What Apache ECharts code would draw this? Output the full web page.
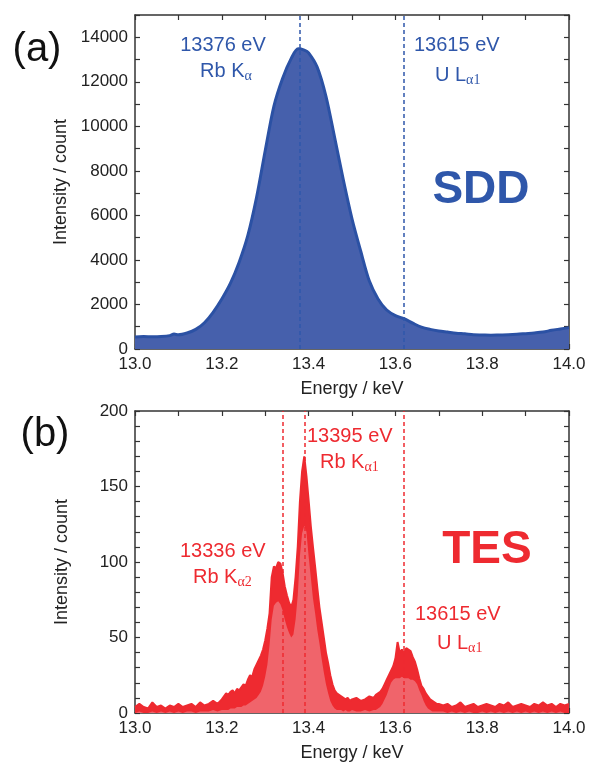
<!DOCTYPE html>
<html><head><meta charset="utf-8">
<script src="https://cdn.jsdelivr.net/npm/echarts@6/dist/echarts.min.js"></script>
<style>html,body{margin:0;padding:0;background:#fff}#c{width:592px;height:763px}</style>
</head><body><div id="c"></div>
<script>
// ---------- DATA ----------
const sddEnergy = [13.00,13.02,13.04,13.06,13.08,13.09,13.10,13.12,13.14,13.16,13.18,13.20,13.22,13.24,13.26,13.28,13.30,13.32,13.34,13.36,13.376,13.39,13.40,13.42,13.44,13.46,13.48,13.50,13.52,13.54,13.56,13.58,13.60,13.62,13.64,13.66,13.68,13.70,13.72,13.74,13.76,13.78,13.80,13.82,13.84,13.86,13.88,13.90,13.92,13.94,13.96,13.98,14.00];
const sddCounts = [540,560,550,560,600,670,640,720,880,1180,1650,2250,2960,3900,5100,6800,8900,10900,12150,13050,13480,13420,13300,12650,11350,9500,7600,5850,4400,3050,2250,1750,1500,1360,1160,980,880,810,760,710,680,640,630,620,630,640,660,690,720,760,840,900,960];

const tesEnergy = [
13.00,13.01,13.02,13.03,13.04,13.05,13.06,13.07,13.08,13.09,13.10,13.11,13.12,13.13,13.14,13.15,13.16,13.17,13.18,13.19,13.20,
13.205,13.210,13.215,13.220,13.225,13.230,13.235,13.240,13.245,13.250,13.255,13.260,13.265,13.270,13.275,13.280,13.285,13.290,13.295,13.300,
13.305,13.310,13.315,13.320,13.325,13.330,13.335,13.340,13.345,13.350,13.355,13.360,13.365,13.370,13.375,13.380,13.385,13.390,13.395,13.400,
13.405,13.410,13.415,13.420,13.425,13.430,13.435,13.440,13.445,13.450,13.455,13.460,13.465,13.470,13.475,13.480,13.485,13.490,13.495,13.500,
13.51,13.52,13.53,13.54,13.55,
13.555,13.560,13.565,13.570,13.575,13.580,13.585,13.590,13.595,13.600,13.605,13.610,13.615,13.620,13.625,13.630,13.635,13.640,13.645,13.650,
13.655,13.660,13.665,13.670,13.675,13.680,13.685,13.690,13.695,13.700,
13.71,13.72,13.73,13.74,13.75,13.76,13.77,13.78,13.79,13.80,13.81,13.82,13.83,13.84,13.85,13.86,13.87,13.88,13.89,13.90,13.91,13.92,13.93,13.94,13.95,13.96,13.97,13.98,13.99,14.00];
const tesUpper = [
4,6,4,3,7,4,5,3,5,4,6,4,5,6,4,7,5,6,8,6,9,
11,13,12,14,15,13,16,15,17,19,18,22,25,24,29,32,35,38,42,48,
56,66,90,97,96,100,99,93,84,78,73,70,75,90,110,140,160,170,157,141,
124,110,97,83,70,60,50,40,33,25,19,15,13,12,11,10,9,10,8,9,
10,8,9,11,10,
12,13,14,16,19,22,25,28,31,36,47,40,42,40,43,42,41,37,34,29,
23,18,16,13,11,9,8,7,6,6,
5,6,4,5,7,4,5,6,4,5,6,5,4,6,5,7,4,5,6,5,4,6,5,7,5,6,4,6,5,6];
const tesLower = [
0,1,0,0,1,0,1,0,1,0,1,0,1,1,0,1,1,1,2,1,2,
2,2,2,3,3,3,4,4,4,5,5,6,7,8,9,10,12,14,18,24,
32,45,62,71,73,74,72,68,62,57,53,50,52,62,78,104,119,124,120,104,
90,76,66,55,46,36,27,19,13,8,5,3,2,2,2,1,2,1,1,2,
1,1,2,1,2,
2,3,4,6,9,12,16,20,22,23,23,23,24,23,23,23,22,22,21,19,
15,12,8,5,3,2,1,1,1,1,
1,0,1,0,1,0,1,0,0,1,0,1,0,1,0,1,0,1,0,1,0,1,0,1,0,1,0,1,0,1];

const sddLines = [13.376, 13.615];
const tesLines = [13.336, 13.395, 13.615];
const xTickLabels = ['13.0','13.2','13.4','13.6','13.8','14.0'];
const sddTickLabels = ['0','2000','4000','6000','8000','10000','12000','14000'];
const tesTickLabels = ['0','50','100','150','200'];

// ---------- STYLE ----------
const BLUE = '#2F57AA', BLUE_FILL = '#4660AC', BLUE_LINE = '#2B51A4';
const RED = '#EE2A30', RED_LIGHT = '#F0646B';
const AX = '#333';
const FONT = '"Liberation Sans", Arial, Helvetica, sans-serif';

const chart = echarts.init(document.getElementById('c'));

function xAx(grid, primary) {
  return {
    type: 'value', gridIndex: grid, min: 13, max: 14, interval: 0.1,
    position: primary ? 'bottom' : 'top',
    name: primary ? 'Energy / keV' : '', nameLocation: 'middle', nameGap: 31,
    nameTextStyle: {fontSize: 18, color: '#222', fontFamily: FONT},
    axisLine: {onZero: false, lineStyle: {color: AX, width: 1.5}},
    axisTick: {inside: true, length: 5, lineStyle: {color: AX, width: 1.2}},
    splitLine: {show: false},
    axisLabel: {show: primary, fontSize: 17, color: '#222', fontFamily: FONT, margin: 7,
      formatter: v => { const k = Math.round((v - 13) * 10); return k % 2 === 0 ? xTickLabels[k / 2] : ''; }},
  };
}
function yAx(grid, primary, max, step, labStep, labels) {
  return {
    type: 'value', gridIndex: grid, min: 0, max: max, interval: step,
    position: primary ? 'left' : 'right',
    name: primary ? 'Intensity / count' : '', nameLocation: 'middle', nameGap: 64, nameRotate: 90,
    nameTextStyle: {fontSize: 18, color: '#222', fontFamily: FONT},
    axisLine: {show: true, onZero: false, lineStyle: {color: AX, width: 1.5}},
    axisTick: {show: true, inside: true, length: 5, lineStyle: {color: AX, width: 1.2}},
    splitLine: {show: false},
    axisLabel: {show: primary, fontSize: 17, color: '#222', fontFamily: FONT, margin: 7,
      formatter: v => { const k = Math.round(v / step); const r = step * k; return (r % labStep === 0 && r / labStep < labels.length) ? labels[r / labStep] : ''; }},
  };
}

const sddData = sddEnergy.map((e, i) => [e, sddCounts[i]]);
const tesUp = tesEnergy.map((e, i) => [e, tesUpper[i]]);
const tesLo = tesEnergy.map((e, i) => [e, tesLower[i]]);

function ml(lines, color) {
  return {silent: true, symbol: ['none', 'none'], label: {show: false}, animation: false,
    lineStyle: {type: [4, 3], color: color, width: 1.5},
    emphasis: {disabled: true},
    data: lines.map(v => ({xAxis: v}))};
}

function txt(text, x, y, size, color, align, extra) {
  return {type: 'text', x: x, y: y, silent: true, z: 100,
    style: Object.assign({text: text, fontSize: size, fontFamily: FONT, fill: color,
      align: align || 'left', verticalAlign: 'middle'}, extra || {})};
}
const subRich = (color) => ({
  n: {fontSize: 20, fontFamily: FONT, fill: color, color: color, lineHeight: 24},
  s: {fontSize: 14, fontFamily: '"Liberation Serif", "DejaVu Serif", serif', fill: color, color: color, lineHeight: 14, verticalAlign: 'bottom'}
});

chart.setOption({
  animation: false,
  grid: [
    {left: 135, top: 15, width: 434, height: 334},
    {left: 135, top: 411, width: 434, height: 302}
  ],
  xAxis: [xAx(0, true), xAx(0, false), xAx(1, true), xAx(1, false)],
  yAxis: [
    yAx(0, true, 15000, 1000, 2000, sddTickLabels), yAx(0, false, 15000, 1000, 2000, sddTickLabels),
    yAx(1, true, 200, 10, 50, tesTickLabels), yAx(1, false, 200, 10, 50, tesTickLabels)
  ],
  series: [
    {type: 'line', xAxisIndex: 0, yAxisIndex: 0, data: sddData, smooth: 0.3, symbol: 'none',
     lineStyle: {color: BLUE_LINE, width: 3}, areaStyle: {color: BLUE_FILL, opacity: 1},
     markLine: ml(sddLines, BLUE), z: 2},
    {type: 'line', xAxisIndex: 2, yAxisIndex: 2, data: tesUp, symbol: 'none',
     lineStyle: {color: RED, width: 2}, areaStyle: {color: RED, opacity: 1}, z: 2},
    {type: 'line', xAxisIndex: 2, yAxisIndex: 2, data: tesLo, symbol: 'none',
     lineStyle: {width: 0, color: RED_LIGHT}, areaStyle: {color: RED_LIGHT, opacity: 1},
     markLine: ml(tesLines, RED), z: 3}
  ],
  graphic: [
    txt('(a)', 37, 50, 40, '#111', 'center'),
    txt('(b)', 45, 435, 40, '#111', 'center'),
    txt('13376 eV', 223, 45, 20, BLUE, 'center'),
    txt('{n|Rb K}{s|α}', 226, 71, 20, BLUE, 'center', {rich: subRich(BLUE)}),
    txt('13615 eV', 414, 45, 20, BLUE, 'left'),
    txt('{n|U L}{s|α1}', 435, 75, 20, BLUE, 'left', {rich: subRich(BLUE)}),
    txt('SDD', 481, 190, 46, BLUE, 'center', {fontWeight: 'bold'}),
    txt('13395 eV', 307, 436, 20, RED, 'left'),
    txt('{n|Rb K}{s|α1}', 320, 462, 20, RED, 'left', {rich: subRich(RED)}),
    txt('TES', 487, 550, 46, RED, 'center', {fontWeight: 'bold'}),
    txt('13336 eV', 180, 551, 20, RED, 'left'),
    txt('{n|Rb K}{s|α2}', 193, 577, 20, RED, 'left', {rich: subRich(RED)}),
    txt('13615 eV', 415, 614, 20, RED, 'left'),
    txt('{n|U L}{s|α1}', 437, 643, 20, RED, 'left', {rich: subRich(RED)})
  ]
});
</script></body></html>
